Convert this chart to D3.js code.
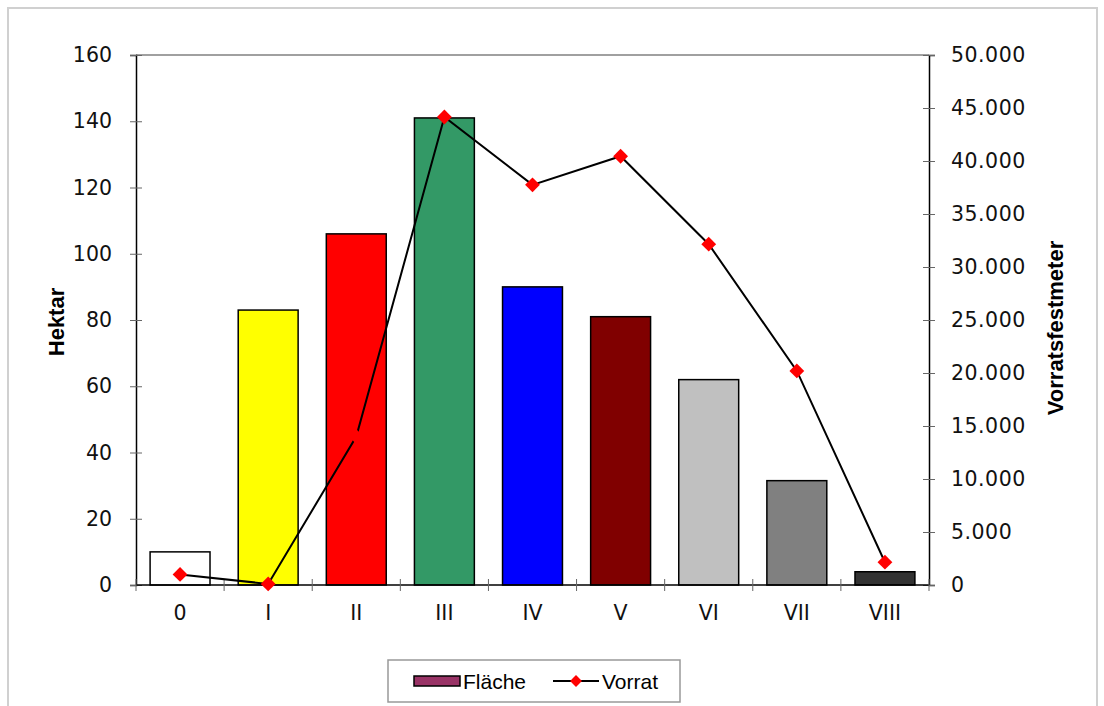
<!DOCTYPE html>
<meta charset="utf-8">
<style>
body{margin:0;background:white;}
svg{display:block;}
.tick text{font-family:"DejaVu Sans",Verdana,sans-serif;font-size:20.5px;fill:#111;}
.axis-title{font-family:"Liberation Sans",Arial,sans-serif;font-size:22px;font-weight:bold;}
.legend text{font-family:"Liberation Sans",Arial,sans-serif;font-size:21px;}
</style>
<body>
<script src="https://cdn.jsdelivr.net/npm/d3@7"></script>
<script>
var categories = ["0","I","II","III","IV","V","VI","VII","VIII"];
var flaeche = [10, 83, 106, 141, 90, 81, 62, 31.5, 4];
var vorrat = [1000, 100, 14000, 44150, 37750, 40450, 32150, 20200, 2150];
var barColors = ["#ffffff","#ffff00","#ff0000","#339966","#0000ff","#800000","#c0c0c0","#808080","#333333"];
var leftTicks = [0,20,40,60,80,100,120,140,160];
var rightTicks = [0,5000,10000,15000,20000,25000,30000,35000,40000,45000,50000];

var W = 1104, H = 706;
var m = {left:136, right:929, top:55, bottom:585};

var svg = d3.select("body").append("svg").attr("width", W).attr("height", H);

// outer frame
svg.append("rect").attr("x",8).attr("y",8).attr("width",1089).attr("height",710)
  .attr("fill","none").attr("stroke","#d0d0d0").attr("stroke-width",2);

var x = d3.scaleBand().domain(categories).range([m.left, m.right]).paddingInner(0.32).paddingOuter(0.16);
var xb = d3.scaleLinear().domain([0, categories.length]).range([m.left, m.right]);
var yL = d3.scaleLinear().domain([0,160]).range([m.bottom, m.top]);
var yR = d3.scaleLinear().domain([0,50000]).range([m.bottom, m.top]);

// top border of plot
svg.append("line").attr("x1",m.left).attr("x2",m.right).attr("y1",m.top).attr("y2",m.top)
  .attr("stroke","#808080").attr("stroke-width",1.5);

// bars
svg.selectAll("rect.bar").data(flaeche).enter().append("rect")
  .attr("class","bar")
  .attr("x", function(d,i){ return x(categories[i]); })
  .attr("width", x.bandwidth())
  .attr("y", function(d){ return yL(d); })
  .attr("height", function(d){ return yL(0) - yL(d); })
  .attr("fill", function(d,i){ return barColors[i]; })
  .attr("stroke","#000").attr("stroke-width",1.5);

// left axis
var gL = svg.append("g").attr("transform","translate(" + m.left + ",0)")
  .call(d3.axisLeft(yL).tickValues(leftTicks).tickSize(6).tickPadding(18));
gL.select(".domain").attr("stroke","#000").attr("stroke-width",1.5);
gL.selectAll(".tick line").attr("x2",6).attr("x1",-6).attr("stroke","#666");

// right axis
var fmt = function(d){ return d3.format(",")(d).replace(/,/g,"."); };
var gR = svg.append("g").attr("transform","translate(" + m.right + ",0)")
  .call(d3.axisRight(yR).tickValues(rightTicks).tickFormat(fmt).tickSize(6).tickPadding(16));
gR.select(".domain").attr("stroke","#000").attr("stroke-width",1.5);
gR.selectAll(".tick line").attr("x1",-6).attr("x2",6).attr("stroke","#666");
gR.selectAll(".tick text").attr("letter-spacing","0.5px");

// bottom axis
var gB = svg.append("g").attr("transform","translate(0," + m.bottom + ")");
gB.append("line").attr("x1",m.left).attr("x2",m.right).attr("stroke","#000").attr("stroke-width",1.5);
gB.selectAll("line.tk").data(d3.range(categories.length+1)).enter().append("line")
  .attr("class","tk")
  .attr("x1", function(d){ return xb(d); }).attr("x2", function(d){ return xb(d); })
  .attr("y1",-6).attr("y2",6).attr("stroke","#666");
gB.selectAll("text").data(categories).enter().append("text")
  .attr("x", function(d){ return x(d) + x.bandwidth()/2; })
  .attr("y", 35)
  .attr("text-anchor","middle")
  .style("font-family","DejaVu Sans, Verdana, sans-serif").style("font-size","20.5px").attr("fill","#111")
  .text(function(d){ return d; });

// line
var cx = function(i){ return x(categories[i]) + x.bandwidth()/2; };
var line = d3.line().x(function(d,i){ return cx(i); }).y(function(d){ return yR(d); });
svg.append("path").datum(vorrat).attr("d", line).attr("fill","none").attr("stroke","#000").attr("stroke-width",2);
svg.selectAll("path.mk").data(vorrat).enter().append("path")
  .attr("class","mk")
  .attr("d", d3.symbol().type(d3.symbolDiamond2).size(140))
  .attr("transform", function(d,i){ return "translate(" + cx(i) + "," + yR(d) + ")"; })
  .attr("fill","#ff0000");

// axis titles
svg.append("text").attr("class","axis-title").attr("text-anchor","middle")
  .attr("transform","translate(64,322) rotate(-90)").text("Hektar");
svg.append("text").attr("class","axis-title").attr("text-anchor","middle")
  .attr("transform","translate(1063,328) rotate(-90)").text("Vorratsfestmeter");

// legend
var lg = svg.append("g").attr("class","legend");
lg.append("rect").attr("x",388).attr("y",660).attr("width",292).attr("height",42)
  .attr("fill","#fff").attr("stroke","#999").attr("stroke-width",1.5);
lg.append("rect").attr("x",414).attr("y",676).attr("width",46).attr("height",10)
  .attr("fill","#993366").attr("stroke","#000").attr("stroke-width",1.5);
lg.append("text").attr("x",463).attr("y",689).text("Fläche");
lg.append("line").attr("x1",553).attr("x2",599).attr("y1",681).attr("y2",681).attr("stroke","#000").attr("stroke-width",2);
lg.append("path").attr("d", d3.symbol().type(d3.symbolDiamond2).size(90))
  .attr("transform","translate(576,681)").attr("fill","#ff0000");
lg.append("text").attr("x",602).attr("y",689).text("Vorrat");
</script>
